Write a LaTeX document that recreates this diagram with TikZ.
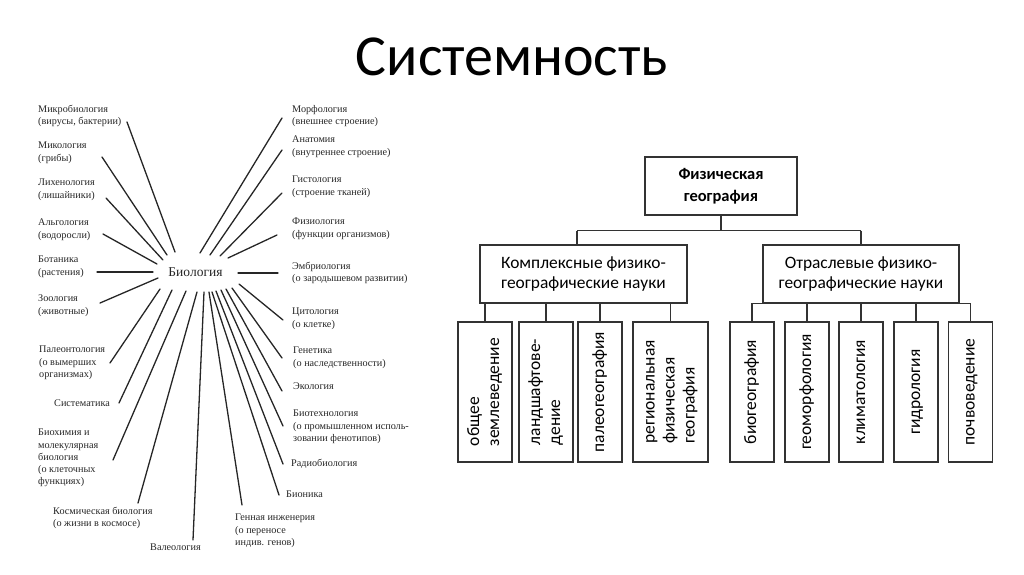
\documentclass[tikz,border=0pt]{standalone}
\usepackage{fontspec}
\usepackage{graphicx}
\setmainfont{Liberation Serif}
\newfontfamily\calfont{Carlito}

\tikzset{
  lbl/.style={font=\fontsize{10.2}{12.2}\selectfont, text=black!85, inner sep=0pt, align=left, anchor=north west},
  ray/.style={line width=1.3pt, black!85, line cap=round},
  geobox/.style={draw, line width=1.1pt, black!80, fill=white, text=black, inner sep=0pt, align=center},
  kidbox/.style={geobox, minimum height=140pt, font=\calfont\fontsize{17.5}{20}\selectfont},
  link/.style={line width=1.1pt, black!80}
}
\newcommand{\vtext}[1]{\rotatebox{90}{\begin{tabular}{@{}l@{}}#1\end{tabular}}}

\begin{document}
\begin{tikzpicture}[x=1pt,y=-1pt]
				\useasboundingbox (0,0) rectangle (1024,574);
				
				% Title
				\node[anchor=base, font=\calfont\fontsize{58}{70}\selectfont] (title) at (512,75) {Системность};
				
				% Biology in the middle
				\node[anchor=base, inner sep=0pt, text=black!85, font=\fontsize{13.5}{16}\selectfont] (bio) at (195.5,276) {Биология};
				
				% Branches: name / text x / text top / text / outer end / inner end
				\foreach \n/\tx/\ty/\txt/\ox/\oy/\ix/\iy in {
					mikro/38/105/{Микробиология\\(вирусы, бактерии)}/127/122/175/252,
					miko/38/142/{Микология\\(грибы)}/102/157/167/255,
					lihen/38/179/{Лихенология\\(лишайники)}/106/198/163/260,
					algo/38/219/{Альгология\\(водоросли)}/103/234/157/264,
					bota/38/256/{Ботаника\\(растения)}/97/272/153/272,
					zoo/38/295/{Зоология\\(животные)}/100/303/158/278,
					paleo/39/346/{Палеонтология\\(о вымерших\\организмах)}/110/363/160/289,
					sist/54/400/{Систематика}/119/403/172/290,
					bhim/38/429/{Биохимия и\\молекулярная\\биология\\(о клеточных\\функциях)}/113/460/186/291,
					kosm/53/507/{Космическая биология\\(о жизни в космосе)}/138/503/197/292,
					valeo/150/544/{Валеология}/193/540/204/292,
					genn/235/514/{Генная инженерия\\(о переносе\\индив. генов)}/242/505/209/292,
					bion/286/491/{Бионика}/279/495/212/292,
					radio/291/459/{Радиобиология}/283/464/216/291,
					biot/293/410/{Биотехнология\\(о промышленном исполь-\\зовании фенотипов)}/283/426/221/290,
					eko/293/383/{Экология}/282/391/226/289,
					genet/293/347/{Генетика\\(о наследственности)}/282/358/232/288,
					cito/292/308/{Цитология\\(о клетке)}/283/320/239/284,
					embr/292/262/{Эмбриология\\(о зародышевом развитии)}/278/273/238/273,
					fizio/292/218/{Физиология\\(функции организмов)}/277/235/228/258,
					gisto/292/176/{Гистология\\(строение тканей)}/282/193/220/256,
					anat/292/136/{Анатомия\\(внутреннее строение)}/282/150/210/255,
					morf/292/105/{Морфология\\(внешнее строение)}/282/118/200/253}{
					\node[lbl] (\n) at (\tx,\ty) {\txt};
					\coordinate (o-\n) at (\ox,\oy);
					\coordinate (i-\n) at (\ix,\iy);
					\draw[ray] (i-\n) -- (o-\n);
				}
				
				% Physical geography
				\node[geobox, minimum width=152pt, minimum height=58pt, font=\calfont\bfseries\fontsize{16.5}{22}\selectfont] (fg) at (721,186) {Физическая\\география};
				
				% Two groups
				\node[geobox, minimum width=207pt, minimum height=58pt, font=\calfont\fontsize{17.4}{19.5}\selectfont] (kompl) at (583.5,274) {Комплексные физико-\\географические науки};
				\node[geobox, minimum width=196pt, minimum height=58pt, font=\calfont\fontsize{17.4}{19.5}\selectfont] (otr) at (861,274) {Отраслевые физико-\\географические науки};
				
				% Complex sciences
				\node[kidbox, minimum width=54pt] (zeml) at (485,392) {\vtext{общее\\землеведение}};
				\node[kidbox, minimum width=54pt] (land) at (546,392) {\vtext{ландшафтове-\\дение}};
				\node[kidbox, minimum width=44pt] (paleog) at (600,392) {\vtext{палеогеография}};
				\node[kidbox, minimum width=75pt] (region) at (670.5,392) {\vtext{региональная\\физическая\\география}};
				
				% Branch sciences
				\node[kidbox, minimum width=44pt] (biog) at (752,392) {\vtext{биогеография}};
				\node[kidbox, minimum width=44pt] (geom) at (807,392) {\vtext{геоморфология}};
				\node[kidbox, minimum width=44pt] (klim) at (861,392) {\vtext{климатология}};
				\node[kidbox, minimum width=44pt] (gidr) at (916,392) {\vtext{гидрология}};
				\node[kidbox, minimum width=44pt] (pochv) at (970.5,392) {\vtext{почвоведение}};
				
				% Links
				\coordinate (busL) at (577,230.7);
				\coordinate (busR) at (861,230.7);
				\draw[link] (fg.south) -- (fg.south |- busL);
				\draw[link] (busL) -- (busR);
				\draw[link] (busL) -- (busL |- kompl.north);
				\draw[link] (busR) -- (busR |- otr.north);
				\foreach \k in {zeml,land,paleog,region}
					\draw[link] (\k.north) -- (\k.north |- kompl.south);
				\draw[link] (biog.north) |- (otr.south) -| (pochv.north);
				\foreach \k in {geom,klim,gidr}
					\draw[link] (\k.north) -- (\k.north |- otr.south);
			\end{tikzpicture}
\end{document}
